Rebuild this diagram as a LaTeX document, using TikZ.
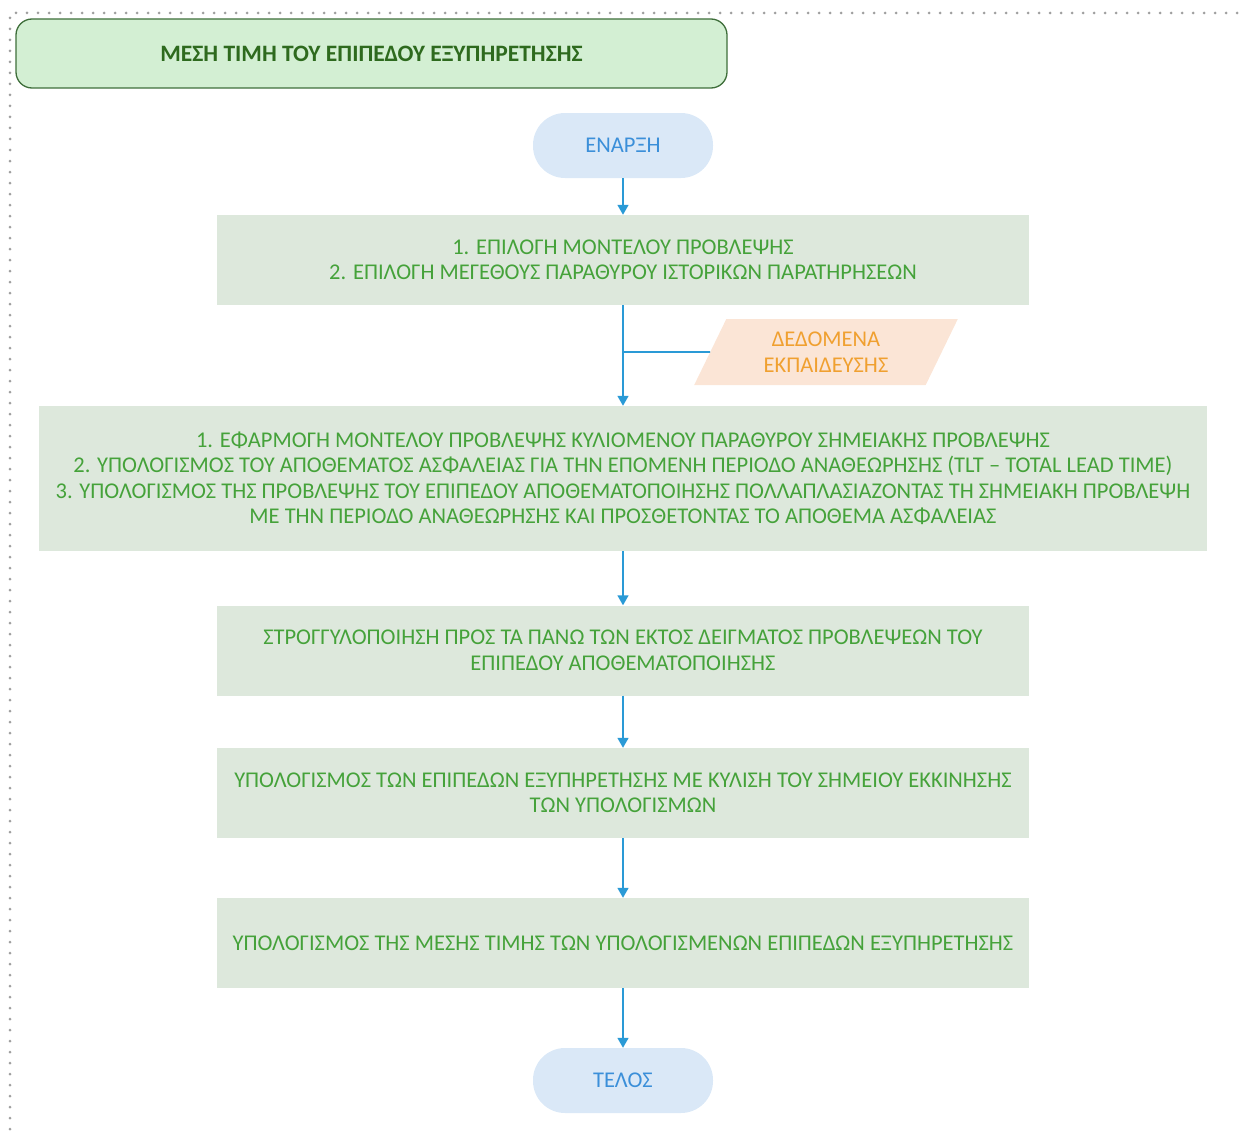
\documentclass[tikz,border=0pt]{standalone}
\usepackage{fontspec}
\setmainfont{Carlito}
\usetikzlibrary{arrows.meta,shapes.geometric}
\definecolor{titlefill}{HTML}{D3EFD3}
\definecolor{titledraw}{HTML}{3E6E3A}
\definecolor{titletext}{HTML}{2E6A1E}
\definecolor{termfill}{HTML}{DAE8F7}
\definecolor{termtext}{HTML}{3B8FD9}
\definecolor{boxfill}{HTML}{DDE8DC}
\definecolor{boxtext}{HTML}{45A23A}
\definecolor{datafill}{HTML}{FBE5D6}
\definecolor{datatext}{HTML}{F0A030}
\definecolor{arrowcol}{HTML}{2A9AD6}
\tikzset{
  every node/.style={font=\fontsize{22.5}{25.5}\selectfont},
  titlebox/.style={draw=titledraw, line width=1.3pt, fill=titlefill, rounded corners=16pt,
     minimum width=711pt, minimum height=69pt, text=titletext, font=\fontsize{23.5}{26}\selectfont\bfseries},
  term/.style={fill=termfill, rounded corners=32pt, minimum width=180pt, minimum height=65pt, text=termtext},
  procbox/.style={fill=boxfill, minimum width=812pt, minimum height=90pt, text=boxtext, align=center},
  databox/.style={trapezium, trapezium left angle=63.4, trapezium right angle=116.6, fill=datafill,
     minimum width=264pt, minimum height=66pt, inner sep=0pt, text=datatext, align=center, trapezium stretches=true},
  flow/.style={draw=arrowcol, line width=1.6pt, -{Triangle[width=11pt,length=10pt]}},
  plainline/.style={draw=arrowcol, line width=1.6pt}
}
\begin{document}
\begin{tikzpicture}[x=1pt,y=-1pt]
\useasboundingbox (0,0) rectangle (1243,1132);
\draw[gray!75, line width=3pt, dash pattern=on 0pt off 11pt, line cap=round] (10,1140) -- (10,13) -- (1250,13);
\node[titlebox] (title) at (371.5,53.5) {ΜΕΣΗ ΤΙΜΗ ΤΟΥ ΕΠΙΠΕΔΟΥ ΕΞΥΠΗΡΕΤΗΣΗΣ};
\node[term] (start) at (623,145.5) {ΕΝΑΡΞΗ};
\node[procbox] (b1) at (623,260) {1. ΕΠΙΛΟΓΗ ΜΟΝΤΕΛΟΥ ΠΡΟΒΛΕΨΗΣ\\2. ΕΠΙΛΟΓΗ ΜΕΓΕΘΟΥΣ ΠΑΡΑΘΥΡΟΥ ΙΣΤΟΡΙΚΩΝ ΠΑΡΑΤΗΡΗΣΕΩΝ};
\node[databox] (data) at (826,352) {ΔΕΔΟΜΕΝΑ\\ΕΚΠΑΙΔΕΥΣΗΣ};
\node[procbox, minimum width=1168pt, minimum height=145pt] (b2) at (623,478.5) {1. ΕΦΑΡΜΟΓΗ ΜΟΝΤΕΛΟΥ ΠΡΟΒΛΕΨΗΣ ΚΥΛΙΟΜΕΝΟΥ ΠΑΡΑΘΥΡΟΥ ΣΗΜΕΙΑΚΗΣ ΠΡΟΒΛΕΨΗΣ\\2. ΥΠΟΛΟΓΙΣΜΟΣ ΤΟΥ ΑΠΟΘΕΜΑΤΟΣ ΑΣΦΑΛΕΙΑΣ ΓΙΑ ΤΗΝ ΕΠΟΜΕΝΗ ΠΕΡΙΟΔΟ ΑΝΑΘΕΩΡΗΣΗΣ (TLT – TOTAL LEAD TIME)\\3. ΥΠΟΛΟΓΙΣΜΟΣ ΤΗΣ ΠΡΟΒΛΕΨΗΣ ΤΟΥ ΕΠΙΠΕΔΟΥ ΑΠΟΘΕΜΑΤΟΠΟΙΗΣΗΣ ΠΟΛΛΑΠΛΑΣΙΑΖΟΝΤΑΣ ΤΗ ΣΗΜΕΙΑΚΗ ΠΡΟΒΛΕΨΗ\\ΜΕ ΤΗΝ ΠΕΡΙΟΔΟ ΑΝΑΘΕΩΡΗΣΗΣ ΚΑΙ ΠΡΟΣΘΕΤΟΝΤΑΣ ΤΟ ΑΠΟΘΕΜΑ ΑΣΦΑΛΕΙΑΣ};
\node[procbox] (b3) at (623,650.5) {ΣΤΡΟΓΓΥΛΟΠΟΙΗΣΗ ΠΡΟΣ ΤΑ ΠΑΝΩ ΤΩΝ ΕΚΤΟΣ ΔΕΙΓΜΑΤΟΣ ΠΡΟΒΛΕΨΕΩΝ ΤΟΥ\\ΕΠΙΠΕΔΟΥ ΑΠΟΘΕΜΑΤΟΠΟΙΗΣΗΣ};
\node[procbox] (b4) at (623,793) {ΥΠΟΛΟΓΙΣΜΟΣ ΤΩΝ ΕΠΙΠΕΔΩΝ ΕΞΥΠΗΡΕΤΗΣΗΣ ΜΕ ΚΥΛΙΣΗ ΤΟΥ ΣΗΜΕΙΟΥ ΕΚΚΙΝΗΣΗΣ\\ΤΩΝ ΥΠΟΛΟΓΙΣΜΩΝ};
\node[procbox] (b5) at (623,943) {ΥΠΟΛΟΓΙΣΜΟΣ ΤΗΣ ΜΕΣΗΣ ΤΙΜΗΣ ΤΩΝ ΥΠΟΛΟΓΙΣΜΕΝΩΝ ΕΠΙΠΕΔΩΝ ΕΞΥΠΗΡΕΤΗΣΗΣ};
\node[term] (end) at (623,1080.5) {ΤΕΛΟΣ};
\coordinate (join) at (623,352);
\draw[flow] (start) -- (b1);
\draw[flow] (b1) -- (b2);
\draw[plainline] (data.west) -- (join);
\draw[flow] (b2) -- (b3);
\draw[flow] (b3) -- (b4);
\draw[flow] (b4) -- (b5);
\draw[flow] (b5) -- (end);
\end{tikzpicture}
\end{document}
